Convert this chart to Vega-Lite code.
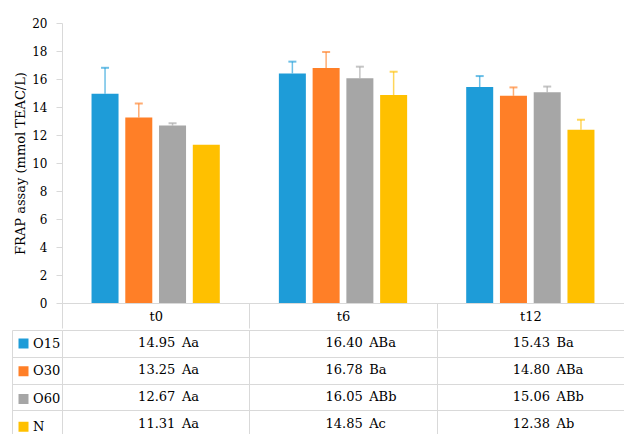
{
  "$schema": "https://vega.github.io/schema/vega-lite/v6.json",
  "padding": {"left": 10, "top": 17, "right": 0, "bottom": 0},
  "background": "white",
  "spacing": 0,
  "config": {
    "font": "DejaVu Serif",
    "view": {"stroke": null},
    "axis": {"labelFont": "DejaVu Serif", "titleFont": "DejaVu Serif", "labelColor": "#000", "titleColor": "#000"},
    "axisY": {"labelOverlap": false},
    "legend": {"labelFont": "DejaVu Serif", "labelColor": "#000"}
  },
  "datasets": {
    "d": [
      {"time": "t0", "group": "O15", "value": 14.95, "hi": 16.8, "letters": "Aa"},
      {"time": "t0", "group": "O30", "value": 13.25, "hi": 14.25, "letters": "Aa"},
      {"time": "t0", "group": "O60", "value": 12.67, "hi": 12.84, "letters": "Aa"},
      {"time": "t0", "group": "N", "value": 11.31, "hi": null, "letters": "Aa"},
      {"time": "t6", "group": "O15", "value": 16.40, "hi": 17.24, "letters": "ABa"},
      {"time": "t6", "group": "O30", "value": 16.78, "hi": 17.93, "letters": "Ba"},
      {"time": "t6", "group": "O60", "value": 16.05, "hi": 16.88, "letters": "ABb"},
      {"time": "t6", "group": "N", "value": 14.85, "hi": 16.52, "letters": "Ac"},
      {"time": "t12", "group": "O15", "value": 15.43, "hi": 16.21, "letters": "Ba"},
      {"time": "t12", "group": "O30", "value": 14.80, "hi": 15.40, "letters": "ABa"},
      {"time": "t12", "group": "O60", "value": 15.06, "hi": 15.46, "letters": "ABb"},
      {"time": "t12", "group": "N", "value": 12.38, "hi": 13.09, "letters": "Ab"}
    ]
  },
  "resolve": {
    "scale": {"x": "independent", "y": "independent", "color": "independent", "xOffset": "independent"},
    "legend": {"color": "independent"}
  },
  "vconcat": [
    {
      "width": 562,
      "height": 280,
      "data": {"name": "d"},
      "encoding": {
        "x": {
          "field": "time", "type": "nominal", "sort": ["t0", "t6", "t12"],
          "scale": {"paddingInner": 0, "paddingOuter": 0},
          "axis": {
            "title": null, "labelAngle": 0, "domainColor": "#d9d9d9", "tickColor": "#d9d9d9",
            "tickBand": "extent", "tickSize": 25, "labelPadding": -12, "labelBaseline": "middle",
            "labelFontSize": 13
          }
        },
        "xOffset": {
          "field": "group", "type": "nominal", "sort": ["O15", "O30", "O60", "N"],
          "scale": {"paddingInner": 0.2, "paddingOuter": 0.875}
        },
        "y": {
          "field": "value", "type": "quantitative",
          "scale": {"domain": [0, 20], "nice": false},
          "axis": {
            "title": "FRAP assay (mmol TEAC/L)", "values": [0, 2, 4, 6, 8, 10, 12, 14, 16, 18, 20],
            "labelOverlap": false,
            "grid": false, "domainColor": "#d9d9d9", "tickColor": "#d9d9d9", "tickSize": 6,
            "labelPadding": 9, "labelFontSize": 12, "titleFontSize": 13, "titleFontWeight": "normal",
            "titlePadding": 4
          }
        },
        "color": {
          "field": "group", "type": "nominal",
          "scale": {"domain": ["O15", "O30", "O60", "N"], "range": ["#1e9cd8", "#ff7f27", "#a6a6a6", "#ffc000"]},
          "legend": null
        }
      },
      "layer": [
        {
          "mark": {"type": "bar"}
        },
        {
          "transform": [{"filter": "isValid(datum.hi)"}],
          "mark": {"type": "rule", "strokeWidth": 1.5, "opacity": 0.65},
          "encoding": {
            "y2": {"field": "hi"}
          }
        },
        {
          "transform": [{"filter": "isValid(datum.hi)"}],
          "mark": {"type": "tick", "thickness": 2, "size": 8, "opacity": 0.65},
          "encoding": {
            "y": {"field": "hi", "type": "quantitative"}
          }
        }
      ]
    },
    {
      "width": 562,
      "height": 107,
      "data": {"name": "d"},
      "encoding": {
        "x": {
          "field": "time", "type": "nominal", "sort": ["t0", "t6", "t12"],
          "scale": {"paddingInner": 0, "paddingOuter": 0},
          "axis": {"title": null, "labels": false, "ticks": false, "domain": false, "grid": true, "gridColor": "#d9d9d9", "tickBand": "extent", "orient": "top"}
        },
        "y": {
          "field": "group", "type": "nominal", "sort": ["O15", "O30", "O60", "N"],
          "scale": {"paddingInner": 0, "paddingOuter": 0},
          "axis": {"title": null, "labels": false, "grid": true, "gridColor": "#d9d9d9", "tickBand": "extent", "tickSize": -50, "offset": 50, "tickColor": "#d9d9d9", "domainColor": "#d9d9d9"}
        }
      },
      "layer": [
        {
          "mark": {"type": "text", "align": "right", "baseline": "middle", "fontSize": 13, "color": "#000"},
          "encoding": {
            "x": {"field": "time", "type": "nominal", "sort": ["t0", "t6", "t12"], "bandPosition": 0.605},
            "text": {"field": "value", "type": "quantitative", "format": ".2f"}
          }
        },
        {
          "mark": {"type": "text", "align": "left", "baseline": "middle", "fontSize": 13, "color": "#000"},
          "encoding": {
            "x": {"field": "time", "type": "nominal", "sort": ["t0", "t6", "t12"], "bandPosition": 0.64},
            "text": {"field": "letters", "type": "nominal"}
          }
        },
        {
          "mark": {"type": "square", "size": 0, "filled": true},
          "encoding": {
            "color": {
              "field": "group", "type": "nominal",
              "scale": {"domain": ["O15", "O30", "O60", "N"], "range": ["#1e9cd8", "#ff7f27", "#a6a6a6", "#ffc000"]},
              "legend": {
                "title": null, "orient": "left", "offset": -57, "padding": 7, "symbolType": "square",
                "symbolSize": 100, "symbolStrokeWidth": 0, "symbolOpacity": 1, "labelFontSize": 13,
                "labelOffset": 3, "rowPadding": 13.75
              }
            }
          }
        }
      ]
    }
  ]
}
